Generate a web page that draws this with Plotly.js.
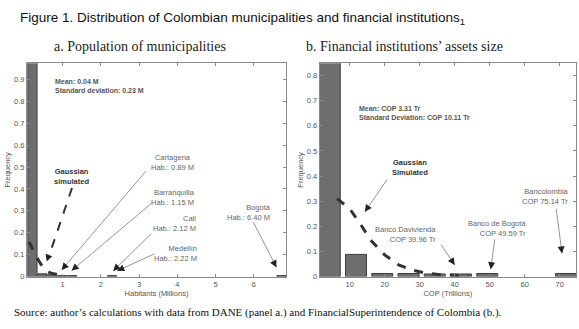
<!DOCTYPE html>
<html>
<head>
<meta charset="utf-8">
<script src="https://cdn.plot.ly/plotly-3.0.1.min.js"></script>
<style>html,body{margin:0;padding:0;background:#fff;}#chart{width:579px;height:329px;}</style>
</head>
<body>
<div id="chart"></div>
<script>
// ---- Panel a: population of municipalities (millions) ----
const popBins = [0.21, 0.47, 0.73, 0.99, 1.25, 2.29, 6.72];
const popFreq = [0.98, 0.012, 0.008, 0.004, 0.004, 0.004, 0.004];
const popGaussX = [0.12, 0.2, 0.3, 0.4, 0.5, 0.6, 0.7, 0.85, 1.0];
const popGaussY = [0.158, 0.13, 0.095, 0.065, 0.04, 0.024, 0.015, 0.01, 0.008];
const popTicksX = [1, 2, 3, 4, 5, 6];
const popTicksY = [0, 0.1, 0.2, 0.3, 0.4, 0.5, 0.6, 0.7, 0.8, 0.9];

// ---- Panel b: financial institutions' assets (COP trillions) ----
const assetBins = [4.3, 11.8, 19.3, 26.8, 34.3, 41.8, 49.3, 71.8];
const assetFreq = [0.9, 0.088, 0.012, 0.012, 0.01, 0.01, 0.012, 0.012];
const assetGaussX = [6.4, 10, 13, 16, 20, 24, 28, 32, 36, 40, 44];
const assetGaussY = [0.31, 0.27, 0.21, 0.145, 0.086, 0.046, 0.025, 0.013, 0.007, 0.004, 0.003];
const assetTicksX = [10, 20, 30, 40, 50, 60, 70];
const assetTicksY = [0, 0.1, 0.2, 0.3, 0.4, 0.5, 0.6, 0.7, 0.8];

const W = 579, H = 329;
const px = v => v / W;
const py = v => 1 - v / H;
const SANS = 'Liberation Sans, Arial, sans-serif';
const SERIF = 'Liberation Serif, Times New Roman, serif';

const barStyle = {color: '#6e6e6e', line: {color: '#3c3c3c', width: 1}};

const traces = [
  {type: 'bar', x: popBins, y: popFreq, width: 0.24, marker: barStyle, xaxis: 'x', yaxis: 'y', hoverinfo: 'skip'},
  {type: 'scatter', mode: 'lines', x: popGaussX, y: popGaussY, line: {color: '#333333', width: 3, dash: 'dash', shape: 'spline'}, xaxis: 'x', yaxis: 'y', hoverinfo: 'skip'},
  {type: 'bar', x: assetBins, y: assetFreq, width: 6, marker: barStyle, xaxis: 'x2', yaxis: 'y2', hoverinfo: 'skip'},
  {type: 'scatter', mode: 'lines', x: assetGaussX, y: assetGaussY, line: {color: '#333333', width: 3, dash: 'dash'}, xaxis: 'x2', yaxis: 'y2', hoverinfo: 'skip'}
];

const axisCommon = {
  showline: true, linecolor: '#8a8a8a', linewidth: 1, mirror: 'ticks',
  ticks: 'inside', ticklen: 3, tickcolor: '#8a8a8a', showgrid: false, zeroline: false,
  tickfont: {family: SANS, size: 7.5, color: '#555'}, automargin: false, fixedrange: true
};
const titleFont = {family: SANS, size: 7.5, color: '#555'};

const annotations = [];
function label(text, x, y, opts) {
  annotations.push(Object.assign({
    text: text, xref: 'paper', yref: 'paper', x: px(x), y: py(y), showarrow: false,
    xanchor: 'center', yanchor: 'middle', align: 'center',
    font: {family: SANS, size: 7.5, color: '#666'}
  }, opts || {}));
}
// arrow with thin gray shaft and dark head; head in data coords, tail in pixels
function arrow(xa, ya, hx, hy, hpx, hpy, tx, ty, shaft) {
  const dx = tx - hpx, dy = ty - hpy;
  const len = Math.sqrt(dx * dx + dy * dy);
  if (shaft) {
    annotations.push({text: '', xref: xa, yref: ya, x: hx, y: hy, ax: dx, ay: dy,
      showarrow: true, arrowhead: 0, arrowwidth: 0.8, arrowcolor: '#7a7a7a'});
  }
  annotations.push({text: '', xref: xa, yref: ya, x: hx, y: hy, ax: dx / len * 7, ay: dy / len * 7,
    showarrow: true, arrowhead: 2, arrowsize: 1, arrowwidth: 1.4, arrowcolor: '#222'});
}

// Panel headers
label('a. Population of municipalities', 140, 47, {font: {family: SERIF, size: 14, color: '#222'}});
label('b. Financial institutions\u2019 assets size', 404, 47, {font: {family: SERIF, size: 14, color: '#222'}});
label('Source: author\u2019s calculations with data from DANE (panel a.) and FinancialSuperintendence of Colombia (b.).', 12, 312,
  {xanchor: 'left', font: {family: SERIF, size: 11, color: '#111'}});

// Panel a texts
label('<b>Mean: 0.04 M</b><br><b>Standard deviation: 0.23 M</b>', 53, 85.5, {xanchor: 'left', align: 'left', font: {family: SANS, size: 7, color: '#555'}});
label('<b>Gaussian</b><br><b>simulated</b>', 71, 176.5, {font: {family: SANS, size: 7.5, color: '#333'}});
label('Cartagena<br>Hab.: 0.89 M', 172, 162);
label('Barranquilla<br>Hab.: 1.15 M', 197, 197, {xanchor: 'right', align: 'right'});
label('Cali<br>Hab.: 2.12 M', 198, 223.5, {xanchor: 'right', align: 'right'});
label('Medell\u00edn<br>Hab.: 2.22 M', 199, 253.7, {xanchor: 'right', align: 'right'});
label('Bogot\u00e1<br>Hab.: 6.40 M', 273, 212.5, {xanchor: 'right', align: 'right'});

// Panel b texts
label('<b>Mean: COP 3.31 Tr</b><br><b>Standard Deviation: COP 10.11 Tr</b>', 357, 112.7, {xanchor: 'left', align: 'left', font: {family: SANS, size: 7, color: '#555'}});
label('<b>Gaussian</b><br><b>Simulated</b>', 410, 167.5, {font: {family: SANS, size: 7.5, color: '#333'}});
label('Banco Davivienda<br>COP 39.96 Tr', 438, 234.5, {xanchor: 'right', align: 'right'});
label('Banco de Bogot\u00e1<br>COP 49.59 Tr', 528, 228.7, {xanchor: 'right', align: 'right'});
label('Bancolombia<br>COP 75.14 Tr', 571, 196, {xanchor: 'right', align: 'right'});

// arrows panel a (head data coords, head pixel, tail pixel)
arrow('x', 'y', 0.582, 0.068, 46.7, 261.7, 72, 188, false);
arrow('x', 'y', 0.974, 0.030, 61.7, 270, 147, 170, true);
arrow('x', 'y', 1.235, 0.027, 71.7, 270.5, 153, 202, true);
arrow('x', 'y', 2.32, 0.025, 113.3, 271, 153, 232, true);
arrow('x', 'y', 2.43, 0.026, 117.3, 270.7, 156, 253, true);
arrow('x', 'y', 6.59, 0.042, 276.7, 267.3, 253, 221, true);
// arrows panel b
arrow('x2', 'y2', 14.34, 0.258, 364.7, 211.7, 388, 178, true);
arrow('x2', 'y2', 40.0, 0.046, 454.7, 265, 440, 243, true);
arrow('x2', 'y2', 50.29, 0.029, 490.7, 269.3, 495, 238, true);
arrow('x2', 'y2', 70.66, 0.092, 562, 253.3, 556, 207, true);

const shapes = [
  {type: 'line', xref: 'paper', yref: 'paper', x0: px(72), y0: py(188), x1: px(49), y1: py(256),
   line: {color: '#333', width: 2, dash: 'dash'}}
];

const layout = {
  width: W, height: H,
  margin: {l: 0, r: 0, t: 0, b: 0},
  paper_bgcolor: '#fff', plot_bgcolor: '#fff',
  showlegend: false,
  title: {
    text: 'Figure 1. Distribution of Colombian municipalities and financial institutions<sub>1</sub>',
    x: px(20), xanchor: 'left', xref: 'paper', y: py(17), yanchor: 'middle', yref: 'paper',
    font: {family: SANS, size: 13.5, color: '#111'}
  },
  bargap: 0,
  xaxis: Object.assign({}, axisCommon, {domain: [px(27), px(286)], range: [0.067, 6.84], anchor: 'y',
    tickvals: popTicksX, title: {text: 'Habitants (Millions)', font: titleFont, standoff: 0}}),
  yaxis: Object.assign({}, axisCommon, {domain: [py(276.5), py(63.3)], range: [0, 0.9735], anchor: 'x',
    tickvals: popTicksY, title: {text: 'Frequency', font: titleFont, standoff: 2}}),
  xaxis2: Object.assign({}, axisCommon, {domain: [px(319.7), px(576)], range: [1.43, 74.66], anchor: 'y2',
    tickvals: assetTicksX, title: {text: 'COP (Trillions)', font: titleFont, standoff: 0}}),
  yaxis2: Object.assign({}, axisCommon, {domain: [py(276.5), py(63.3)], range: [0, 0.849], anchor: 'x2',
    tickvals: assetTicksY, title: {text: 'Frequency', font: titleFont, standoff: 2}}),
  annotations: annotations,
  shapes: shapes
};

Plotly.newPlot('chart', traces, layout, {staticPlot: true, displayModeBar: false});
</script>
</body>
</html>
